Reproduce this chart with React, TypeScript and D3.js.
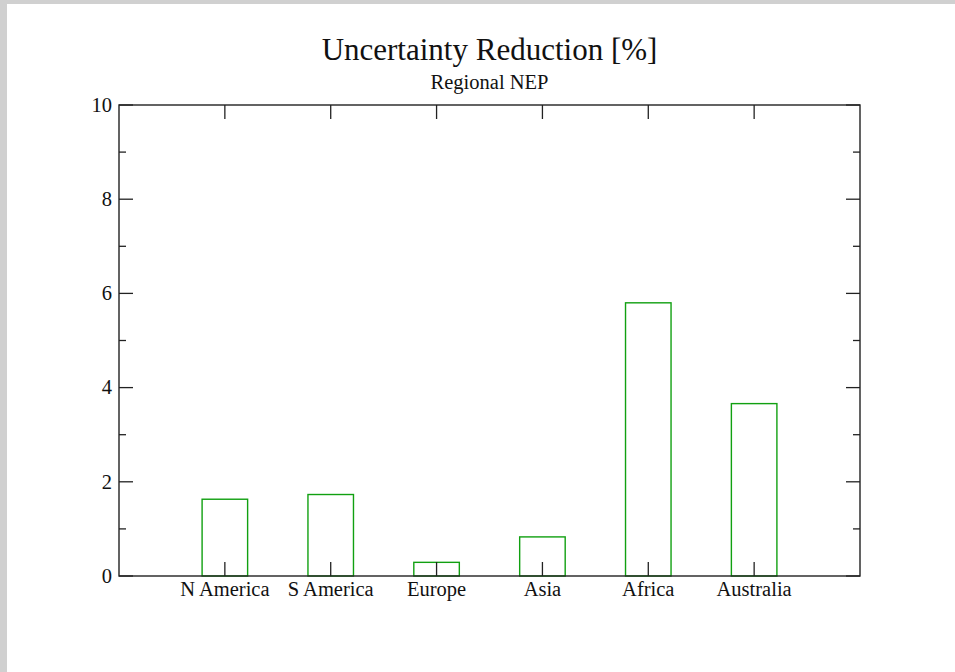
import { useEffect, useRef } from "react";
import * as d3 from "d3";

const regions = ["N America", "S America", "Europe", "Asia", "Africa", "Australia"];
const reduction = [1.63, 1.73, 0.29, 0.83, 5.8, 3.66];
const yMajorTicks = [0, 2, 4, 6, 8, 10];
const yMinorTicks = [1, 3, 5, 7, 9];

const title = "Uncertainty Reduction [%]";
const subtitle = "Regional NEP";

const App = () => {
  const ref = useRef<SVGSVGElement>(null);

  useEffect(() => {
    const width = 955;
    const height = 672;
    const frame = { left: 119, right: 860, top: 105, bottom: 576 };
    const font = "'Liberation Serif', 'Times New Roman', serif";
    const axisColor = "#222";
    const barColor = "#11a011";
    const labelSize = 20.5;

    const svg = d3.select(ref.current);
    svg.selectAll("*").remove();
    svg.attr("width", width).attr("height", height);

    // page background with the grey window edge
    svg.append("rect").attr("width", width).attr("height", height).attr("fill", "#d0d0d0");
    svg.append("rect").attr("x", 7).attr("y", 4).attr("width", width - 7).attr("height", height - 4).attr("fill", "#fff");

    // categories sit at 1..n on a 0..n+1 axis, like the original grace plot
    const x = d3.scaleLinear().domain([0, regions.length + 1]).range([frame.left, frame.right]);
    const y = d3.scaleLinear().domain([0, 10]).range([frame.bottom, frame.top]);
    const barW = x(0.43) - x(0);

    // bars
    svg
      .append("g")
      .selectAll("rect")
      .data(reduction)
      .enter()
      .append("rect")
      .attr("x", (_, i) => x(i + 1) - barW / 2)
      .attr("y", (d) => y(d))
      .attr("width", barW)
      .attr("height", (d) => y(0) - y(d))
      .attr("fill", "none")
      .attr("stroke", barColor)
      .attr("stroke-width", 1.4);

    const ticks = svg.append("g").attr("stroke", axisColor).attr("stroke-width", 1.3);
    const major = 14;
    const minor = 7;

    // x ticks, bottom and top, pointing in
    regions.forEach((_, i) => {
      const px = x(i + 1);
      ticks.append("line").attr("x1", px).attr("x2", px).attr("y1", frame.bottom).attr("y2", frame.bottom - major);
      ticks.append("line").attr("x1", px).attr("x2", px).attr("y1", frame.top).attr("y2", frame.top + major);
    });

    // y ticks, left and right
    yMajorTicks.forEach((v) => {
      const py = y(v);
      ticks.append("line").attr("x1", frame.left).attr("x2", frame.left + major).attr("y1", py).attr("y2", py);
      ticks.append("line").attr("x1", frame.right).attr("x2", frame.right - major).attr("y1", py).attr("y2", py);
    });
    yMinorTicks.forEach((v) => {
      const py = y(v);
      ticks.append("line").attr("x1", frame.left).attr("x2", frame.left + minor).attr("y1", py).attr("y2", py);
      ticks.append("line").attr("x1", frame.right).attr("x2", frame.right - minor).attr("y1", py).attr("y2", py);
    });

    // frame
    svg
      .append("rect")
      .attr("x", frame.left)
      .attr("y", frame.top)
      .attr("width", frame.right - frame.left)
      .attr("height", frame.bottom - frame.top)
      .attr("fill", "none")
      .attr("stroke", axisColor)
      .attr("stroke-width", 1.4);

    // tick labels
    svg
      .append("g")
      .selectAll("text")
      .data(yMajorTicks)
      .enter()
      .append("text")
      .attr("x", frame.left - 7)
      .attr("y", (d) => y(d))
      .attr("dy", "0.33em")
      .attr("text-anchor", "end")
      .attr("font-family", font)
      .attr("font-size", labelSize)
      .attr("fill", "#111")
      .text((d) => d);

    svg
      .append("g")
      .selectAll("text")
      .data(regions)
      .enter()
      .append("text")
      .attr("x", (_, i) => x(i + 1))
      .attr("y", frame.bottom + 20)
      .attr("text-anchor", "middle")
      .attr("font-family", font)
      .attr("font-size", labelSize)
      .attr("fill", "#111")
      .text((d) => d);

    // titles
    const cx = (frame.left + frame.right) / 2;
    svg
      .append("text")
      .attr("x", cx)
      .attr("y", 60)
      .attr("text-anchor", "middle")
      .attr("font-family", font)
      .attr("font-size", 31)
      .attr("fill", "#111")
      .text(title);
    svg
      .append("text")
      .attr("x", cx)
      .attr("y", 89)
      .attr("text-anchor", "middle")
      .attr("font-family", font)
      .attr("font-size", labelSize)
      .attr("fill", "#111")
      .text(subtitle);
  }, []);

  return <svg ref={ref} style={{ position: "absolute", left: 0, top: 0, display: "block" }} />;
};

export default App;
